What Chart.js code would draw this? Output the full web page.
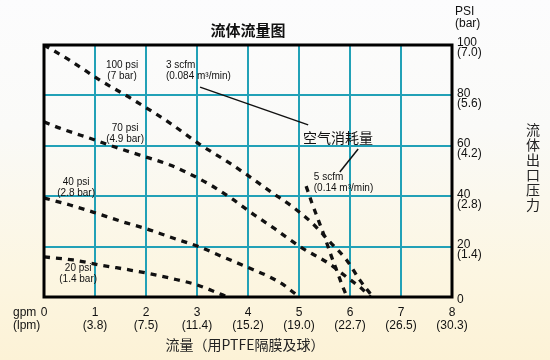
<!DOCTYPE html>
<html>
<head>
<meta charset="utf-8">
<script src="https://cdn.jsdelivr.net/npm/chart.js@4.4.0/dist/chart.umd.min.js"></script>
<style>
  html, body { margin: 0; padding: 0; }
  body {
    width: 550px; height: 360px; overflow: hidden;
    background: linear-gradient(180deg, #fcfcfd 0%, #fafaf8 35%, #fcf6e2 75%, #fcf2d6 100%);
  }
  canvas { display: block; }
</style>
</head>
<body>
<canvas id="c" width="550" height="360"></canvas>
<script>
// ---- Tick labels ----
const gpmTicks = ['0', '1', '2', '3', '4', '5', '6', '7', '8'];
const lpmTicks = ['', '(3.8)', '(7.5)', '(11.4)', '(15.2)', '(19.0)', '(22.7)', '(26.5)', '(30.3)'];
const psiTicks = ['0', '20', '40', '60', '80', '100'];
const barTicks = ['', '(1.4)', '(2.8)', '(4.2)', '(5.6)', '(7.0)'];

// ---- Curves: [flow gpm, discharge pressure psi] ----
const psi100Curve = [[0,100],[0.5,94],[1.1,86],[1.69,79],[2.47,69],[3.06,60.5],[3.65,53],[4.05,47.5],[4.45,41.7],[4.86,36],[5.25,29.5],[5.6,22],[5.94,14.5],[6.2,6.5],[6.45,0]];
const psi70Curve  = [[0,69.5],[0.31,67],[1.0,62.3],[1.39,59.5],[1.88,56.3],[2.47,52.4],[2.82,49.2],[3.27,44.4],[3.69,38.9],[4.1,32.9],[4.53,27],[4.75,23.8],[5.12,18.7],[5.37,15.9],[5.61,13],[5.8,10],[5.98,7.2],[6.18,4.2],[6.4,0]];
const psi40Curve  = [[0,39.3],[0.51,36.5],[0.96,33.7],[1.55,29.8],[2.02,27],[2.47,23.8],[3.06,19.8],[3.51,15.9],[3.98,11.9],[4.43,7.9],[4.7,4.8],[5.0,0]];
const psi20Curve  = [[0,15.9],[0.57,14.7],[1.1,12.7],[1.69,10.7],[2.02,9.5],[2.47,7.5],[3.0,4.8],[3.3,2.5],[3.6,0]];
const scfm5Curve  = [[5.14,44],[5.25,37.5],[5.38,30.5],[5.5,24],[5.62,17],[5.74,10.5],[5.85,4.5],[5.94,0]];

// ---- Annotation texts (positions in data units) ----
const curveLabels = [
  { lines: ['100 psi', '(7 bar)'], x: 1.53, y: 92.1, align: 'center' },
  { lines: ['3 scfm', '(0.084 m³/min)'], x: 2.39, y: 92.1, align: 'left' },
  { lines: ['70 psi', '(4.9 bar)'], x: 1.59, y: 67.1, align: 'center' },
  { lines: ['40 psi', '(2.8 bar)'], x: 0.63, y: 45.6, align: 'center' },
  { lines: ['20 psi', '(1.4 bar)'], x: 0.67, y: 11.5, align: 'center' },
  { lines: ['5 scfm', '(0.14 m³/min)'], x: 5.29, y: 47.6, align: 'left' }
];
const airLabel = { text: '空气消耗量', x: 5.08, y: 63.1 };
const leaders = [
  { from: [3.06, 83.3], to: [5.18, 68.3] },
  { from: [6.16, 58.7], to: [5.8, 49.6] }
];

const LATIN = '"Liberation Sans", Arial, sans-serif';
const CJK = '"Noto Sans CJK SC", "Noto Sans", sans-serif';
const GRID = '#22a1b7';

function ds(curve) {
  return {
    data: curve.map(([x, y]) => ({ x, y })),
    borderColor: '#111',
    borderWidth: 3.3,
    borderDash: [6, 6],
    pointRadius: 0,
    fill: false,
    cubicInterpolationMode: 'monotone'
  };
}

const decor = {
  id: 'decor',
  afterDatasetsDraw(chart) {
    const { ctx, chartArea: a, scales: { x, y } } = chart;
    ctx.save();
    // leader lines
    ctx.strokeStyle = '#111';
    ctx.lineWidth = 1.5;
    leaders.forEach(l => {
      ctx.beginPath();
      ctx.moveTo(x.getPixelForValue(l.from[0]), y.getPixelForValue(l.from[1]));
      ctx.lineTo(x.getPixelForValue(l.to[0]), y.getPixelForValue(l.to[1]));
      ctx.stroke();
    });
    // curve labels
    ctx.fillStyle = '#111';
    ctx.font = '10px ' + LATIN;
    ctx.textBaseline = 'middle';
    curveLabels.forEach(c => {
      ctx.textAlign = c.align;
      const px = x.getPixelForValue(c.x);
      const py = y.getPixelForValue(c.y);
      c.lines.forEach((t, i) => ctx.fillText(t, px, py + i * 11));
    });
    ctx.font = '14px ' + CJK;
    ctx.textAlign = 'left';
    ctx.fillText(airLabel.text, x.getPixelForValue(airLabel.x), y.getPixelForValue(airLabel.y));
    // border
    ctx.strokeStyle = '#000';
    ctx.lineWidth = 3;
    ctx.strokeRect(a.left, a.top, a.right - a.left, a.bottom - a.top);
    ctx.restore();
  },
  afterDraw(chart) {
    const { ctx, chartArea: a, scales: { y } } = chart;
    ctx.save();
    ctx.fillStyle = '#111';
    ctx.textBaseline = 'middle';
    // title
    ctx.font = 'bold 15px ' + CJK;
    ctx.textAlign = 'center';
    ctx.fillText('流体流量图', (a.left + a.right) / 2, 30);
    // x axis title
    ctx.font = '14px ' + CJK;
    ctx.fillStyle = '#222';
    ctx.fillText('流量（用PTFE隔膜及球）', 245, 345);
    // right axis title (vertical)
    const vt = '流体出口压力';
    for (let i = 0; i < vt.length; i++) ctx.fillText(vt[i], 533, 130 + i * 15);
    // units
    ctx.fillStyle = '#111';
    ctx.font = '12px ' + LATIN;
    ctx.textAlign = 'left';
    ctx.fillText('PSI', a.right + 3, 12);
    ctx.fillText('(bar)', a.right + 3, 24);
    ctx.fillText('gpm', 13, 312.5);
    ctx.fillText('(lpm)', 13, 325.5);
    // right axis tick labels (psi / bar)
    y.ticks.forEach(t => {
      const i = Math.round(t.value / 20);
      const py = y.getPixelForValue(t.value);
      if (barTicks[i]) {
        ctx.fillText(psiTicks[i], a.right + 5, py - 2);
        ctx.fillText(barTicks[i], a.right + 5, py + 8);
      } else {
        ctx.fillText(psiTicks[i], a.right + 5, py + 3);
      }
    });
    ctx.restore();
  }
};

new Chart(document.getElementById('c'), {
  type: 'line',
  data: { datasets: [ds(psi100Curve), ds(psi70Curve), ds(psi40Curve), ds(psi20Curve), ds(scfm5Curve)] },
  options: {
    responsive: false,
    animation: false,
    devicePixelRatio: 1,
    layout: { padding: { left: 44, top: 45, right: 0, bottom: 0 } },
    plugins: { legend: { display: false }, tooltip: { enabled: false }, title: { display: false } },
    scales: {
      x: {
        type: 'linear', position: 'bottom', min: 0, max: 8,
        border: { display: false },
        grid: { color: GRID, lineWidth: 2, drawTicks: false },
        ticks: {
          stepSize: 1, padding: 9, maxRotation: 0, autoSkip: false,
          color: '#111', font: { family: LATIN, size: 12, lineHeight: 1.1 },
          callback: (v) => [gpmTicks[v], lpmTicks[v]]
        },
        afterFit: (s) => { s.height = 63; }
      },
      y: {
        type: 'linear', position: 'right', min: 0, max: 100,
        border: { display: false },
        grid: { color: GRID, lineWidth: 2, drawTicks: false },
        ticks: {
          stepSize: 20, padding: 5, autoSkip: false,
          color: 'rgba(0,0,0,0)', font: { family: LATIN, size: 12 },
          callback: (v) => psiTicks[Math.round(v / 20)]
        },
        afterFit: (s) => { s.width = 98; }
      }
    }
  },
  plugins: [decor]
});
</script>
</body>
</html>
